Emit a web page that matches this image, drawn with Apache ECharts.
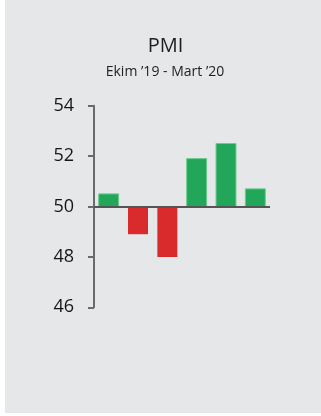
<!DOCTYPE html>
<html>
<head>
<meta charset="utf-8">
<script src="https://cdn.jsdelivr.net/npm/echarts@6/dist/echarts.min.js"></script>
<style>
  html, body { margin: 0; padding: 0; background: #ffffff; }
  #chart { width: 321px; height: 416px; }
</style>
</head>
<body>
<div id="chart"></div>
<script>
// Monthly PMI readings, October 2019 to March 2020
const months = ['Ekim', 'Kasım', 'Aralık', 'Ocak', 'Şubat', 'Mart'];
const pmiValues = [50.5, 48.9, 48.0, 51.9, 52.5, 50.7];
const threshold = 50;
const yTicks = [46, 48, 50, 52, 54];

const titleText = 'PMI';
const subtitleText = 'Ekim \u201919 - Mart \u201920';

const GREEN = '#22a75a';
const GREEN_EDGE = '#6ccb8e';
const RED = '#d92b2b';
const FONT = 'Open Sans';

const chart = echarts.init(document.getElementById('chart'), null, { renderer: 'canvas' });

chart.setOption({
  animation: false,
  backgroundColor: '#ffffff',
  graphic: [
    {
      type: 'rect', z: -10, silent: true,
      shape: { x: 5, y: 0, width: 316, height: 413 },
      style: { fill: '#e6e7e9' }
    },
    {
      type: 'text', z: 10, x: 165.5, y: 46.5,
      style: { text: titleText, fill: '#1e1e1e', font: '20px "' + FONT + '"', textAlign: 'center', textVerticalAlign: 'middle' }
    },
    {
      type: 'text', z: 10, x: 165, y: 72.5,
      style: { text: subtitleText, fill: '#1e1e1e', font: '14px "' + FONT + '"', textAlign: 'center', textVerticalAlign: 'middle' }
    }
  ],
  grid: { left: 94, right: 51, top: 105.7, bottom: 108.7, containLabel: false },
  xAxis: {
    type: 'category',
    data: months,
    show: false,
    boundaryGap: true
  },
  yAxis: {
    type: 'value',
    min: yTicks[0],
    max: yTicks[yTicks.length - 1],
    interval: 2,
    axisLine: { show: true, lineStyle: { color: '#6b6b6b', width: 2 } },
    axisTick: { show: true, inside: false, length: 6, lineStyle: { color: '#6b6b6b', width: 2 } },
    axisLabel: { margin: 20, color: '#161616', fontSize: 18, fontFamily: FONT },
    splitLine: { show: false }
  },
  series: [
    {
      type: 'custom',
      data: pmiValues.map((v, i) => [i, v]),
      encode: { x: 0, y: 1 },
      renderItem: function (params, api) {
        const idx = api.value(0);
        const val = api.value(1);
        const base = api.coord([idx, threshold]);
        const top = api.coord([idx, val]);
        const bw = api.size([1, 0])[0] * 0.68;
        const up = val >= threshold;
        const y0 = Math.min(base[1], top[1]);
        const h = Math.abs(base[1] - top[1]);
        return {
          type: 'rect',
          shape: { x: base[0] - bw / 2, y: y0, width: bw, height: h },
          style: up
            ? { fill: GREEN, stroke: GREEN_EDGE, lineWidth: 1 }
            : { fill: RED }
        };
      },
      markLine: {
        silent: true,
        symbol: 'none',
        label: { show: false },
        lineStyle: { color: '#555555', width: 2, type: 'solid' },
        data: [{ yAxis: threshold }]
      },
      z: 2
    }
  ]
});
</script>
</body>
</html>
